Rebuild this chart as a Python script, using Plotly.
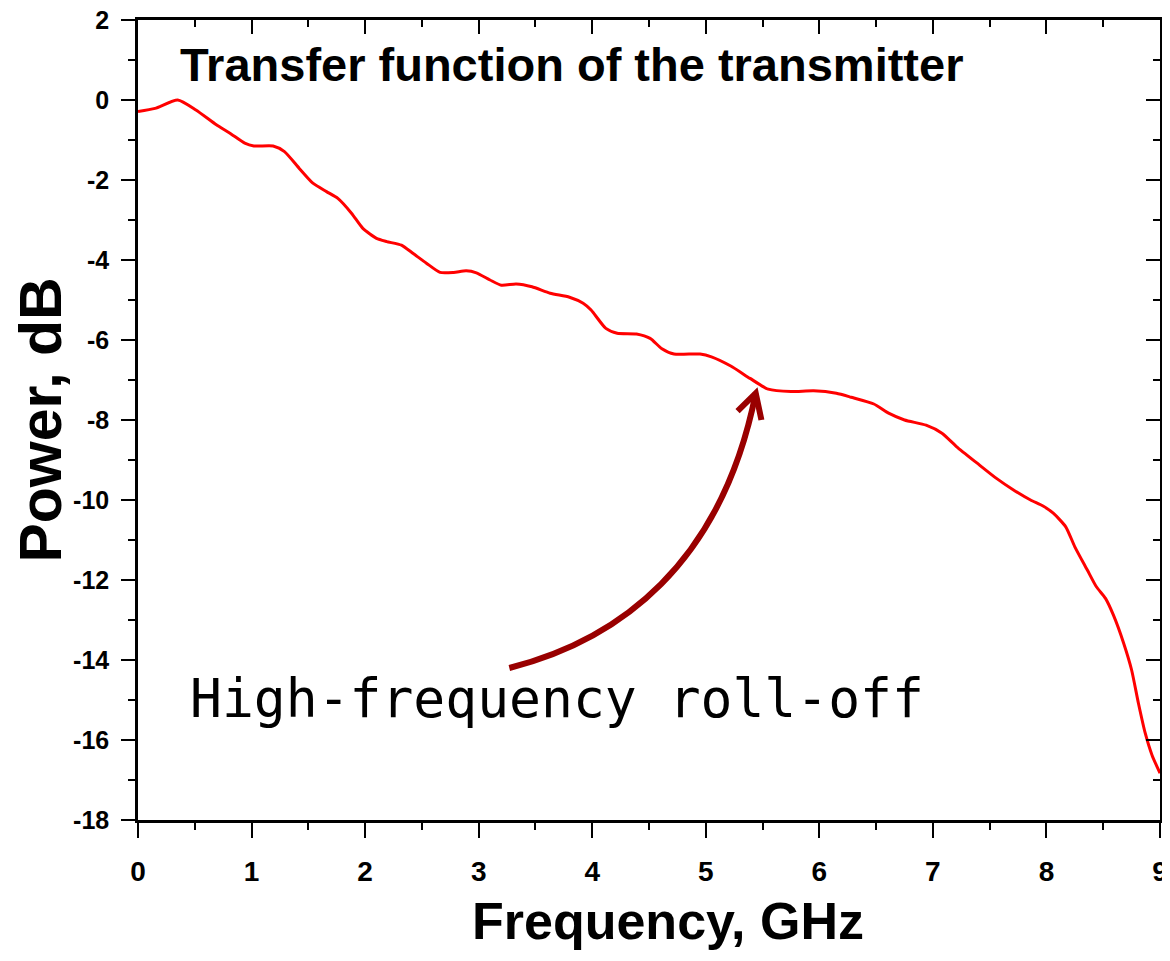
import plotly.graph_objects as go

# ---- data ----
freq_ghz = [0.00, 0.15, 0.35, 0.51, 0.69, 0.81, 0.94, 1.02, 1.19, 1.29, 1.42, 1.54,
            1.66, 1.76, 1.88, 1.98, 2.10, 2.19, 2.32, 2.42, 2.54, 2.66, 2.78, 2.89,
            2.98, 3.10, 3.20, 3.33, 3.47, 3.63, 3.80, 3.92, 3.99, 4.12, 4.22, 4.39,
            4.51, 4.61, 4.72, 4.95, 5.05, 5.22, 5.39, 5.55, 5.75, 5.95, 6.15, 6.28,
            6.48, 6.61, 6.75, 6.94, 7.08, 7.21, 7.39, 7.56, 7.71, 7.86, 7.97, 8.06,
            8.17, 8.25, 8.36, 8.44, 8.52, 8.59, 8.68, 8.75, 8.81, 8.87, 8.93, 9.00]
power_db = [-0.29, -0.21, 0.00, -0.25, -0.62, -0.83, -1.08, -1.15, -1.15, -1.29, -1.71, -2.08,
            -2.29, -2.46, -2.83, -3.21, -3.46, -3.54, -3.63, -3.83, -4.08, -4.31, -4.31, -4.27,
            -4.32, -4.50, -4.63, -4.60, -4.67, -4.83, -4.93, -5.08, -5.25, -5.71, -5.83, -5.85,
            -5.96, -6.21, -6.35, -6.35, -6.42, -6.65, -6.96, -7.23, -7.29, -7.27, -7.33, -7.43,
            -7.60, -7.83, -8.00, -8.13, -8.33, -8.67, -9.08, -9.46, -9.75, -10.00, -10.15, -10.33,
            -10.67, -11.17, -11.75, -12.17, -12.46, -12.88, -13.58, -14.25, -15.08, -15.83, -16.38, -16.83]

x_ticks = [0, 1, 2, 3, 4, 5, 6, 7, 8, 9]
x_ticklabels = ["0", "1", "2", "3", "4", "5", "6", "7", "8", "9"]
y_ticks = [2, 0, -2, -4, -6, -8, -10, -12, -14, -16, -18]
y_ticklabels = ["2", "0", "-2", "-4", "-6", "-8", "-10", "-12", "-14", "-16", "-18"]

title_text = "Transfer function of the transmitter"
x_title = "Frequency, GHz"
y_title = "Power, dB"
note_text = "High-frequency roll-off"

# curved arrow (data coordinates): start, two control points, tip, head arms
arrow_start = (3.27, -14.2)
arrow_c1 = (4.24, -13.5)
arrow_c2 = (5.14, -11.6)
arrow_tip = (5.44, -7.33)
arrow_arm_left = (5.28, -7.78)
arrow_arm_right = (5.49, -8.0)

BOLD = dict(family="Liberation Sans, Arial, sans-serif", color="black", weight="bold")

fig = go.Figure()
fig.add_trace(go.Scatter(
    x=freq_ghz, y=power_db, mode="lines",
    line=dict(color="#ff0000", width=3, shape="spline", smoothing=0.6),
    showlegend=False, hoverinfo="skip"))
# dummy trace for the mirrored top/right axes
fig.add_trace(go.Scatter(x=[None], y=[None], xaxis="x2", yaxis="y2",
                         showlegend=False, hoverinfo="skip"))

axis_common = dict(showline=True, linecolor="black", linewidth=2.5, showgrid=False,
                   zeroline=False, tickcolor="black", tickwidth=2)

# the page body adds an 8px margin, so the figure is offset by 8px
fig.update_layout(
    width=1162, height=945,
    margin=dict(l=130, r=10, t=12, b=133, autoexpand=False),
    paper_bgcolor="white", plot_bgcolor="white",
    xaxis=dict(range=[0, 9], tickvals=x_ticks, ticktext=x_ticklabels,
               ticks="outside", ticklen=15, ticklabelstandoff=10,
               ticklabeloverflow="allow",
               tickfont=dict(size=28, **BOLD),
               minor=dict(ticks="outside", ticklen=7, tickwidth=2, dtick=0.5, tickcolor="black"),
               **axis_common),
    yaxis=dict(range=[-18, 2], tickvals=y_ticks, ticktext=y_ticklabels,
               ticks="outside", ticklen=14, ticklabelstandoff=7,
               ticklabeloverflow="allow",
               tickfont=dict(size=25, **BOLD),
               minor=dict(ticks="outside", ticklen=7, tickwidth=2, dtick=1, tickcolor="black"),
               title=dict(text=y_title, font=dict(size=59, **BOLD), standoff=5),
               **axis_common),
    xaxis2=dict(range=[0, 9], overlaying="x", side="top", anchor="y2",
                tickvals=x_ticks, ticks="inside", ticklen=14, showticklabels=False,
                minor=dict(ticks="inside", ticklen=7, tickwidth=2, dtick=0.5, tickcolor="black"),
                **axis_common),
    yaxis2=dict(range=[-18, 2], overlaying="y", side="right", anchor="x2",
                tickvals=y_ticks, ticks="inside", ticklen=14, showticklabels=False,
                minor=dict(ticks="inside", ticklen=7, tickwidth=2, dtick=1, tickcolor="black"),
                **axis_common),
)

# x-axis title (placed slightly right of centre, as in the reference)
fig.add_annotation(x=0.519, y=-0.087, xref="paper", yref="paper", xanchor="center",
                   yanchor="top", text=x_title, showarrow=False,
                   font=dict(size=52, **BOLD))

fig.add_annotation(x=0.35, y=0.9, xref="x", yref="y", xanchor="left", yanchor="middle",
                   text=title_text, showarrow=False, font=dict(size=47, **BOLD))

fig.add_annotation(x=3.69, y=-14.95, xref="x", yref="y", xanchor="center", yanchor="middle",
                   text=note_text, showarrow=False,
                   font=dict(family="DejaVu Sans Mono, monospace", size=53, color="black"))

arrow_color = "#990000"
fig.add_shape(type="path", xref="x", yref="y",
              path=(f"M {arrow_start[0]},{arrow_start[1]} "
                    f"C {arrow_c1[0]},{arrow_c1[1]} {arrow_c2[0]},{arrow_c2[1]} "
                    f"{arrow_tip[0]},{arrow_tip[1]}"),
              line=dict(color=arrow_color, width=6))
fig.add_shape(type="path", xref="x", yref="y",
              path=(f"M {arrow_arm_left[0]},{arrow_arm_left[1]} "
                    f"L {arrow_tip[0]},{arrow_tip[1]} "
                    f"L {arrow_arm_right[0]},{arrow_arm_right[1]}"),
              line=dict(color=arrow_color, width=6))

fig.write_html("out.html")
